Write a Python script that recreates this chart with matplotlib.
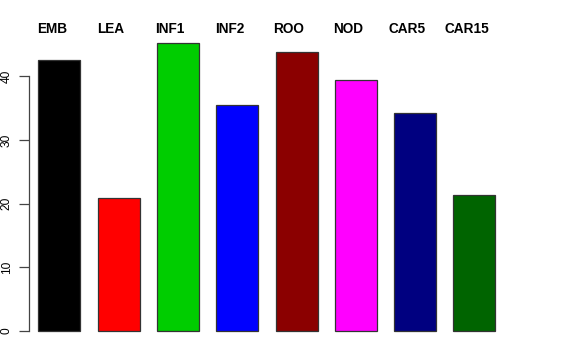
import numpy as np
from matplotlib import pyplot as plt

tissues = ["EMB", "LEA", "INF1", "INF2", "ROO", "NOD", "CAR5", "CAR15"]
values = [42.5, 20.9, 45.2, 35.5, 43.8, 39.4, 34.2, 21.3]
colors = ["#000000", "#FF0000", "#00CD00", "#0000FF", "#8B0000", "#FF00FF", "#000080", "#006400"]
yticks = [0, 10, 20, 30, 40]

W, H = 576, 360
fig = plt.figure(figsize=(W / 100, H / 100), dpi=100)

# axes box in pixels
left_px, right_px = 29.3, 547.0
zero_px = 331.0            # pixel row of y = 0
px_per_unit = 6.37
ytop = 47.0
top_px = zero_px - ytop * px_per_unit
ax = fig.add_axes([left_px / W, (H - zero_px) / H,
                   (right_px - left_px) / W, (zero_px - top_px) / H])

pitch = 59.3
x0 = -(59.3 - left_px) / pitch
x1 = x0 + (right_px - left_px) / pitch
x = np.arange(len(tissues))
ax.bar(x, values, width=42 / pitch, color=colors, edgecolor="#333333",
       linewidth=0.9, clip_on=False)
ax.set_xlim(x0, x1)
ax.set_ylim(0, ytop)

# tissue names along the top
for xi, name in zip(x, tissues):
    ax.annotate(name, xy=(xi - 0.128, 0), xycoords=("data", "figure pixels"),
                xytext=(0, H - 29), textcoords=("offset points", "figure pixels"),
                ha="center", va="center", fontsize=9.8, fontweight="bold",
                family="Liberation Sans")

for s in ["top", "right", "bottom"]:
    ax.spines[s].set_visible(False)
ax.spines["left"].set_bounds(0, 40)
ax.spines["left"].set_color("#444444")
ax.spines["left"].set_linewidth(0.9)
ax.set_xticks([])
ax.set_yticks(yticks)
ax.set_yticklabels([str(t) for t in yticks], rotation=90, va="center",
                   fontsize=8.6, family="Liberation Sans")
ax.tick_params(axis="y", length=7, width=0.9, color="#444444", pad=5)

plt.savefig("out.png", dpi=100)
